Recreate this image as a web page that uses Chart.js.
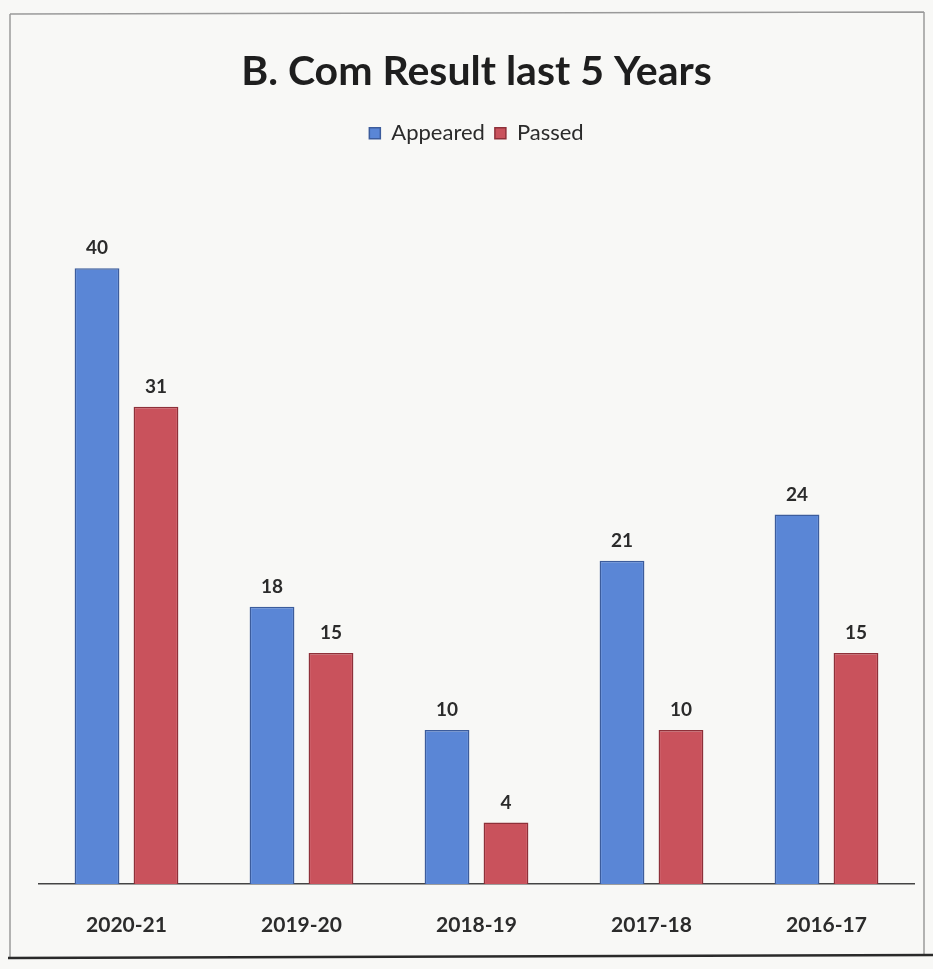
<!DOCTYPE html>
<html>
<head>
<meta charset="utf-8">
<script src="https://cdn.jsdelivr.net/npm/chart.js@4.4.1/dist/chart.umd.min.js"></script>
<style>
  html, body { margin: 0; padding: 0; background: #f7f7f5; }
  #wrap { position: relative; width: 933px; height: 969px; }
  canvas { display: block; }
</style>
</head>
<body>
<div id="wrap"><canvas id="c" width="933" height="969"></canvas></div>
<script>
const categories = ["2020-21", "2019-20", "2018-19", "2017-18", "2016-17"];
const appeared = [40, 18, 10, 21, 24];
const passed = [31, 15, 4, 10, 15];
const seriesNames = ["Appeared", "Passed"];
const chartTitle = "B. Com Result last 5 Years";

const FONT = "Lato, 'Open Sans', sans-serif";

const valueLabels = {
  id: 'valueLabels',
  afterDatasetsDraw(chart) {
    const ctx = chart.ctx;
    ctx.save();
    ctx.font = "bold 19px " + FONT;
    ctx.fillStyle = "#2b2b2b";
    ctx.textAlign = "center";
    ctx.textBaseline = "middle";
    chart.data.datasets.forEach((ds, i) => {
      const meta = chart.getDatasetMeta(i);
      meta.data.forEach((bar, j) => {
        ctx.fillText(String(ds.data[j]), bar.x, bar.y - 20);
      });
    });
    ctx.restore();
  }
};

const frame = {
  id: 'frame',
  beforeDraw(chart) {
    const ctx = chart.ctx;
    ctx.save();
    ctx.fillStyle = "#f8f8f6";
    ctx.fillRect(0, 0, chart.width, chart.height);
    ctx.strokeStyle = "#9a9a9a";
    ctx.lineWidth = 1.5;
    ctx.beginPath();
    ctx.moveTo(10, 14); ctx.lineTo(924, 12);
    ctx.moveTo(10, 14); ctx.lineTo(10, 958);
    ctx.moveTo(924, 12); ctx.lineTo(924, 956);
    ctx.stroke();
    ctx.strokeStyle = "#2a2a2a";
    ctx.lineWidth = 2.5;
    ctx.beginPath();
    ctx.moveTo(8, 958); ctx.lineTo(933, 955);
    ctx.stroke();
    ctx.restore();
  }
};

new Chart(document.getElementById('c'), {
  type: 'bar',
  data: {
    labels: categories,
    datasets: [
      { label: seriesNames[0], data: appeared, backgroundColor: "#5a86d6", borderColor: "#3c5c9c", borderWidth: 1.5 },
      { label: seriesNames[1], data: passed, backgroundColor: "#c9525c", borderColor: "#8e3039", borderWidth: 1.5 }
    ]
  },
  options: {
    responsive: false,
    animation: false,
    devicePixelRatio: 1,
    datasets: { bar: { categoryPercentage: 0.674, barPercentage: 0.76 } },
    layout: { padding: { left: 39, right: 19, top: 0, bottom: 3 } },
    plugins: {
      title: {
        display: true,
        text: chartTitle,
        color: "#1e1e1e",
        font: { family: FONT, size: 41, weight: 'bold' },
        padding: { top: 47, bottom: 16 }
      },
      legend: {
        display: true,
        position: 'top',
        labels: {
          boxWidth: 11, boxHeight: 11,
          color: "#2b2b2b",
          font: { family: FONT, size: 22 },
          padding: 10
        }
      },
      tooltip: { enabled: false }
    },
    scales: {
      x: {
        grid: { display: false, drawTicks: false },
        border: { display: true, color: "#444", width: 1.5 },
        ticks: { color: "#2b2b2b", font: { family: FONT, size: 21, weight: 'bold' }, padding: 28.4 }
      },
      y: {
        display: false,
        min: 0,
        max: 47.4
      }
    }
  },
  plugins: [frame, valueLabels]
});
</script>
</body>
</html>
